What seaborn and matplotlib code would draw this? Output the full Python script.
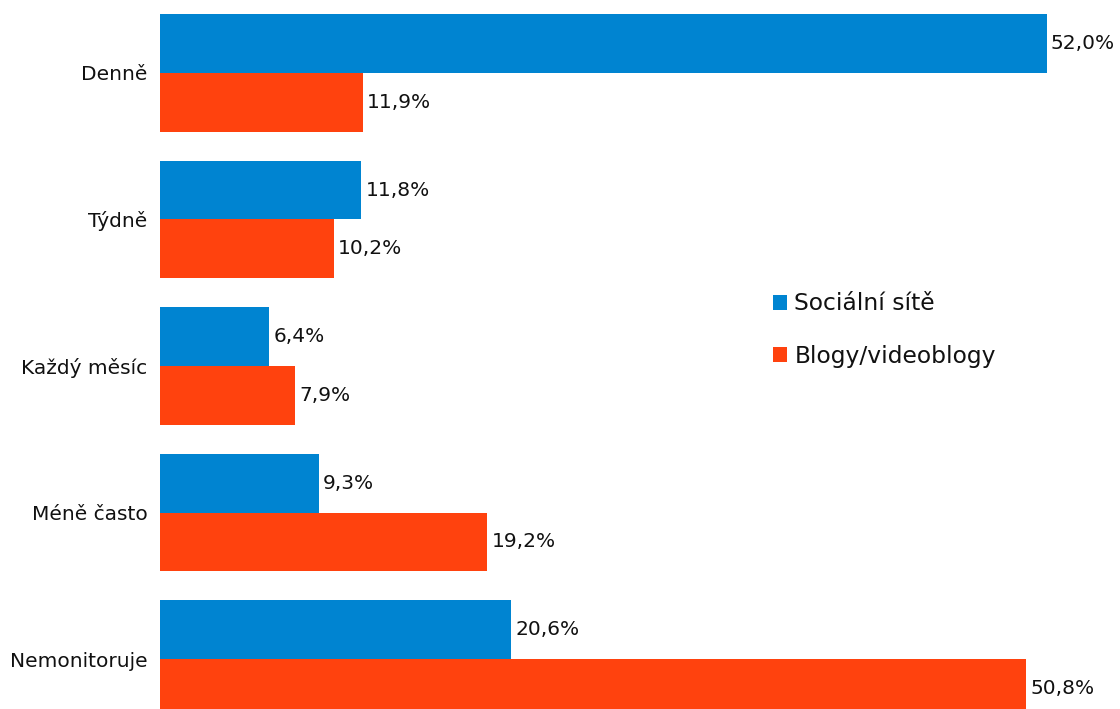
import matplotlib
matplotlib.use("Agg")
import matplotlib.pyplot as plt
import seaborn as sns
import pandas as pd

categories = ["Denně", "Týdně", "Každý měsíc", "Méně často", "Nemonitoruje"]
series_names = ["Sociální sítě", "Blogy/videoblogy"]
social = [52.0, 11.8, 6.4, 9.3, 20.6]
blogs = [11.9, 10.2, 7.9, 19.2, 50.8]

colors = ["#0084D1", "#FF420E"]

df = pd.DataFrame({
    "kategorie": categories * 2,
    "podíl": social + blogs,
    "zdroj": [series_names[0]] * len(categories) + [series_names[1]] * len(categories),
})

sns.set_style("white")
plt.rcParams["font.family"] = ["DejaVu Sans"]

fig = plt.figure(figsize=(11.2, 7.09), dpi=100)
ax = fig.add_axes([160 / 1120, 0, 955 / 1120, 1])

sns.barplot(data=df, y="kategorie", x="podíl", hue="zdroj", orient="h",
            order=categories, hue_order=series_names, palette=colors,
            width=0.8, saturation=1, ax=ax, errorbar=None, linewidth=0)

ax.set_xlim(0, 56)
ax.set_ylim(4.341, -0.498)

for cont in ax.containers:
    ax.bar_label(cont, labels=[f"{v:.1f}".replace(".", ",") + "%" for v in cont.datavalues],
                 padding=3, fontsize=14.5, color="#111111")

for s in ax.spines.values():
    s.set_visible(False)
ax.set_xlabel("")
ax.set_ylabel("")
ax.set_xticks([])
ax.tick_params(axis="y", length=0, pad=9, labelsize=14.5, labelcolor="#111111")

leg = ax.legend(loc="center left", bbox_to_anchor=(752 / 1120, 1 - 330 / 709),
                bbox_transform=fig.transFigure, frameon=False, fontsize=16.8,
                handlelength=0.62, handleheight=0.62, handletextpad=0.3,
                labelspacing=1.25)
for t in leg.get_texts():
    t.set_color("#111111")

fig.savefig("out.png", dpi=100)
